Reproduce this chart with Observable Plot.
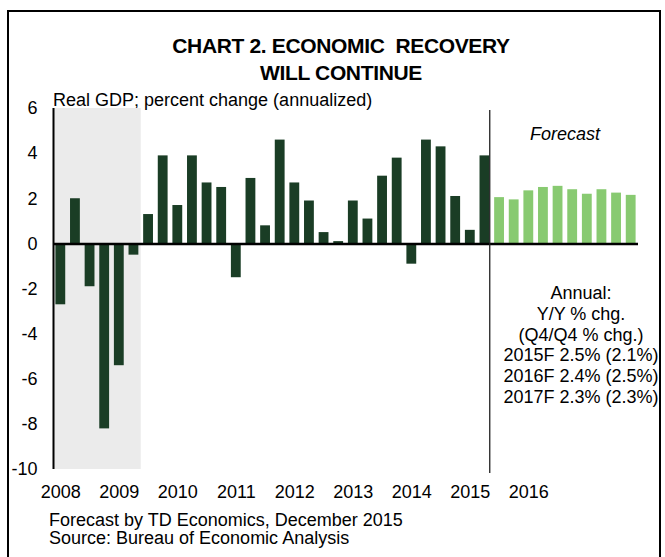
<!DOCTYPE html>
<html>
<head>
<meta charset="utf-8">
<script src="https://cdn.jsdelivr.net/npm/d3@7"></script>
<script src="https://cdn.jsdelivr.net/npm/@observablehq/plot@0.6"></script>
<style>
  html, body { margin: 0; padding: 0; background: #fff; }
  body { width: 665px; height: 557px; position: relative; overflow: hidden;
         font-family: "Liberation Sans", Arial, sans-serif; color: #000; }
  #frame { position: absolute; left: 7px; top: 10px; width: 650px; height: 600px;
           border: 2.5px solid #000; box-sizing: content-box; }
  #title { position: absolute; left: 141px; width: 400px; top: 32px; text-align: center;
           font-weight: bold; font-size: 21px; line-height: 27px; letter-spacing: -0.35px; }
  #subtitle { position: absolute; left: 53px; top: 90px; font-size: 18px; line-height: 20px; white-space: nowrap; }
  #chart { position: absolute; left: 0; top: 80px; }
  #forecastLabel { position: absolute; left: 465px; width: 200px; top: 124px; text-align: center;
           font-size: 18px; font-style: italic; line-height: 20px; }
  #annual { position: absolute; left: 481px; width: 200px; top: 283px; text-align: center;
           font-size: 18px; line-height: 20.8px; white-space: nowrap; }
  #notes { position: absolute; left: 49px; top: 511px; font-size: 18px; line-height: 18px; white-space: nowrap; }
</style>
</head>
<body>
<div id="frame"></div>
<div id="title"></div>
<div id="subtitle"></div>
<div id="chart"></div>
<div id="forecastLabel"></div>
<div id="annual"></div>
<div id="notes"></div>
<script>
// ---- data ----
const titleLines = ["CHART 2. ECONOMIC\u00a0 RECOVERY", "WILL CONTINUE"];
const subtitle = "Real GDP; percent change (annualized)";
const quarters = [
  "2008Q1","2008Q2","2008Q3","2008Q4","2009Q1","2009Q2","2009Q3","2009Q4",
  "2010Q1","2010Q2","2010Q3","2010Q4","2011Q1","2011Q2","2011Q3","2011Q4",
  "2012Q1","2012Q2","2012Q3","2012Q4","2013Q1","2013Q2","2013Q3","2013Q4",
  "2014Q1","2014Q2","2014Q3","2014Q4","2015Q1","2015Q2","2015Q3","2015Q4",
  "2016Q1","2016Q2","2016Q3","2016Q4","2017Q1","2017Q2","2017Q3","2017Q4"
];
const actualGrowth = [
  -2.7, 2.0, -1.9, -8.2, -5.4, -0.5, 1.3, 3.9,
  1.7, 3.9, 2.7, 2.5, -1.5, 2.9, 0.8, 4.6,
  2.7, 1.9, 0.5, 0.1, 1.9, 1.1, 3.0, 3.8,
  -0.9, 4.6, 4.3, 2.1, 0.6, 3.9
];
const forecastGrowth = [2.05, 1.95, 2.35, 2.5, 2.55, 2.4, 2.2, 2.4, 2.25, 2.15];
const yearLabels = ["2008","2009","2010","2011","2012","2013","2014","2015","2016"];
const yTicks = [-10, -8, -6, -4, -2, 0, 2, 4, 6];
const recession = ["2008Q1", "2009Q2"];
const forecastStart = "2015Q3";
const forecastLabel = "Forecast";
const annualNotes = ["Annual:", "Y/Y % chg.", "(Q4/Q4 % chg.)",
  "2015F 2.5% (2.1%)", "2016F 2.4% (2.5%)", "2017F 2.3% (2.3%)"];
const notes = ["Forecast by TD Economics, December 2015", "Source: Bureau of Economic Analysis"];

// ---- build ----
const rows = quarters.map((q, i) => ({
  q, i,
  value: i < actualGrowth.length ? actualGrowth[i] : forecastGrowth[i - actualGrowth.length],
  type: i < actualGrowth.length ? "actual" : "forecast"
}));
const yDomain = d3.extent(yTicks);
const xDomain = [-0.5, quarters.length - 0.5];
const tickIdx = yearLabels.map(y => quarters.indexOf(y + "Q1"));
const recStart = quarters.indexOf(recession[0]) - 0.5;
const recEnd = quarters.indexOf(recession[1]) + 0.5;
const fcLine = quarters.indexOf(forecastStart) - 0.5;

document.getElementById("title").innerHTML = titleLines.join("<br>");
document.getElementById("subtitle").textContent = subtitle;
document.getElementById("forecastLabel").textContent = forecastLabel;
document.getElementById("annual").innerHTML = annualNotes.join("<br>");
document.getElementById("notes").innerHTML = notes.join("<br>");

const chart = Plot.plot({
  width: 665,
  height: 425,
  marginLeft: 53,
  marginRight: 27,
  marginTop: 28,
  marginBottom: 36,
  x: { domain: xDomain, axis: null, label: null },
  y: { domain: yDomain, axis: null, label: null },
  style: { fontFamily: "'Liberation Sans', Arial, sans-serif", fontSize: "18px", color: "#000", background: "transparent", overflow: "visible" },
  marks: [
    Plot.rect([recession], { x1: () => recStart, x2: () => recEnd, y1: yDomain[0], y2: yDomain[1], fill: "#ebebeb" }),
    Plot.rect(rows, {
      x1: d => d.i - 0.5, x2: d => d.i + 0.5, y1: 0, y2: "value",
      insetLeft: 2.4, insetRight: 2.4,
      fill: d => d.type === "actual" ? "#1a3d25" : "#88ca71"
    }),
    Plot.ruleY([0], { stroke: "#000", strokeWidth: 2.5 }),
    Plot.ruleX([xDomain[0]], { y1: yDomain[0], y2: yDomain[1], stroke: "#000", strokeWidth: 2 }),
    Plot.ruleX([fcLine], { y1: yDomain[0], y2: yDomain[1], insetTop: 4, insetBottom: -2, dx: -2.5, stroke: "#222", strokeWidth: 1.3 }),
    Plot.axisY(yTicks, { tickSize: 0, tickPadding: 16, tickFormat: d => String(d), fontSize: 18, label: null }),
    Plot.axisX(tickIdx, { tickSize: 0, tickPadding: 16, tickFormat: i => quarters[i].slice(0, 4), fontSize: 18, label: null })
  ]
});
document.getElementById("chart").appendChild(chart);
</script>
</body>
</html>
